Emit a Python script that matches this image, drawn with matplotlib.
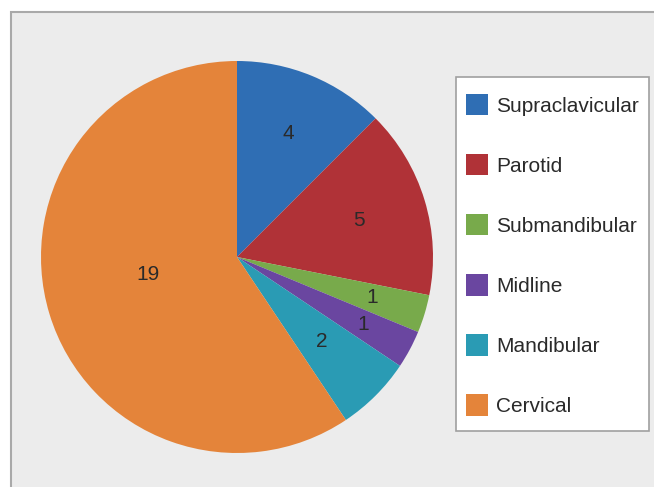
import numpy as np
import matplotlib.pyplot as plt
from matplotlib.patches import Rectangle

sites = ["Supraclavicular", "Parotid", "Submandibular", "Midline", "Mandibular", "Cervical"]
counts = [4, 5, 1, 1, 2, 19]
colors = ["#2f6eb4", "#b03237", "#78aa4b", "#6a46a0", "#2a9bb4", "#e4843a"]

# how far out each count label sits (fraction of radius)
label_r = [0.68, 0.65, 0.72, 0.73, 0.61, 0.46]
label_shift = [0, 0, 0, 0, 0, -6]  # small angular tweak in degrees

W, H = 654, 487
fig = plt.figure(figsize=(W / 100, H / 100), dpi=100)
fig.patch.set_facecolor("white")

# grey panel with frame
fig.add_artist(Rectangle((11 / W, -0.01), 1.0, (H - 12) / H + 0.01, transform=fig.transFigure,
                         facecolor="#ececec", edgecolor="#a9a9a9", lw=1.5, zorder=-5))

cx, cy, r = 237, 257, 196
ax = fig.add_axes([(cx - r) / W, (H - cy - r) / H, 2 * r / W, 2 * r / H])
ax.set_zorder(2)
wedges, _ = ax.pie(counts, colors=colors, startangle=90, counterclock=False,
                   wedgeprops=dict(linewidth=0))
ax.set_xlim(-1, 1)
ax.set_ylim(-1, 1)
ax.set_aspect("equal")
ax.axis("off")

for w, n, rr, sh in zip(wedges, counts, label_r, label_shift):
    mid = np.deg2rad((w.theta1 + w.theta2) / 2 + sh)
    ax.text(rr * np.cos(mid), rr * np.sin(mid), str(n), ha="center", va="center",
            fontsize=15, color="#2a2a2a", family="Liberation Sans")

# legend box
fig.add_artist(Rectangle((456 / W, (H - 431) / H), 193 / W, 354 / H, transform=fig.transFigure,
                         facecolor="white", edgecolor="#a0a0a0", lw=1.2, zorder=-4))
leg = fig.legend(wedges, sites, loc="center left", bbox_to_anchor=(466 / W, (H - 255) / H),
                 frameon=False, borderpad=0, borderaxespad=0, handlelength=1.05, handleheight=1.2,
                 handletextpad=0.4, labelspacing=1.84,
                 prop=dict(family="Liberation Sans", size=15), labelcolor="#2a2a2a")
leg.set_zorder(3)

fig.savefig("out.png", dpi=100)
